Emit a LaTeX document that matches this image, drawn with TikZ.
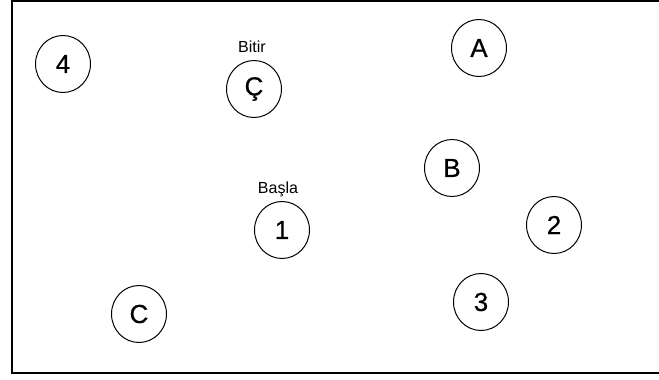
\documentclass[tikz,border=0pt]{standalone}
\usepackage{fontspec}
\setmainfont{Liberation Sans}
\newfontfamily\thickfont[FakeBold=0.6]{Liberation Sans}
\usetikzlibrary{shapes.geometric}
\begin{document}
\begin{tikzpicture}[x=1pt,y=-1pt,
  st/.style={draw, ellipse, line width=1pt, minimum width=55pt, minimum height=57pt, inner sep=0pt, font=\thickfont\fontsize{26}{26}\selectfont},
  lbl/.style={font=\fontsize{16}{16}\selectfont, inner sep=0pt}]
\useasboundingbox (0,0) rectangle (659,380);
\fill[white] (0,0) rectangle (659,380);
\draw[line width=1.2pt] (659,1) -- (12,1) -- (12,373) -- (659,373);
\node[st] (n4) at (63,64) {4};
\node[st] (nC1) at (254,89) {Ç};
\node[lbl] (bitir) at (252,47) {Bitir};
\node[st] (nA) at (479,48) {A};
\node[st] (nB) at (452,168) {B};
\node[lbl] (basla) at (278,189) {Başla};
\node[st] (n1) at (282,230) {1};
\node[st] (n2) at (554,225) {2};
\node[st] (n3) at (481,302) {3};
\node[st] (nC) at (139,314) {C};
\end{tikzpicture}
\end{document}
